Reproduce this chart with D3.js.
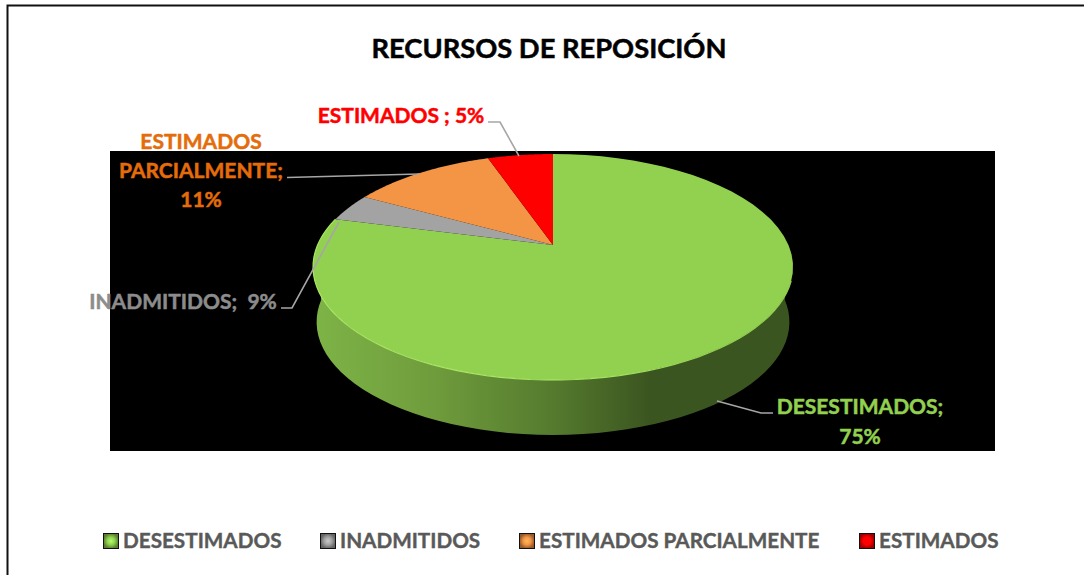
<!DOCTYPE html>
<html><head><meta charset="utf-8">
<script src="https://cdn.jsdelivr.net/npm/d3@7"></script>
<style>html,body{margin:0;padding:0;background:#fff}svg{display:block}text{font-family:Lato,"Open Sans",sans-serif;font-weight:700;paint-order:stroke}</style>
</head><body><svg id="c" width="1084" height="575"></svg>
<script>
const categories = ["DESESTIMADOS","INADMITIDOS","ESTIMADOS PARCIALMENTE","ESTIMADOS"];
const sliceValues = [79,4,11.7,5.3];
const labelPercents = [75,9,11,5];
const sliceColors = ["#92d050","#a3a3a3","#f39545","#ff0000"];
const labelColors = ["#92d050","#8c8c8c","#e46c0a","#ff0000"];
const legendX = [103,320,519,859];

const svg = d3.select("#c");
const defs = svg.append("defs");

svg.append("path").attr("d","M7.5,575V5.5H1084").attr("fill","none").attr("stroke","#111").attr("stroke-width",2);
svg.append("rect").attr("x",110).attr("y",151).attr("width",885).attr("height",300).attr("fill","#000");

svg.append("text").attr("x",549).attr("y",58).attr("text-anchor","middle")
  .attr("font-size",27.3).attr("fill","#000").attr("stroke","#000").attr("stroke-width",0.5).text("RECURSOS DE REPOSICIÓN");

// perspective disc projection
const cx=553, cy=245, ax=235.4, by=108.7, k=-0.1947, depth=55, wallScale=0.985;
const project=(a,bottom)=>{
  const u=Math.sin(a), v=-Math.cos(a), w=1+k*v;
  const s=bottom?wallScale:1;
  return [cx+s*ax*u/w, cy+by*v/w+(bottom?depth:0)];
};
const arcPts=(a0,a1,bottom)=>d3.range(0,61).map(i=>project(a0+(a1-a0)*i/60,bottom));
const line=d3.line();

const pie=d3.pie().sort(null).value(d=>d);
const arcs=pie(sliceValues);

// wall
const wg=defs.append("linearGradient").attr("id","wall").attr("gradientUnits","userSpaceOnUse")
  .attr("x1",313).attr("x2",794).attr("y1",0).attr("y2",0);
[[0,"#7eb447"],[0.25,"#6f9c3c"],[0.5,"#557a2e"],[0.7,"#3b5520"],[1,"#3b5520"]].forEach(s=>wg.append("stop").attr("offset",s[0]).attr("stop-color",s[1]));
const wa0=Math.PI/2, wa1=Math.PI*1.5;
const wallPts=arcPts(wa0,wa1,false).concat(arcPts(wa1,wa0,true));
svg.append("path").attr("d",line(wallPts)+"Z").attr("fill","url(#wall)");

// top slices
svg.append("g").selectAll("path").data(arcs).join("path")
  .attr("d",d=>line([[cx,cy],...arcPts(d.startAngle,d.endAngle,false)])+"Z")
  .attr("fill",(d,i)=>sliceColors[i]);
// rim highlight, fading out towards the right
const rg=defs.append("linearGradient").attr("id","rim").attr("gradientUnits","userSpaceOnUse")
  .attr("x1",313).attr("x2",794).attr("y1",0).attr("y2",0);
[[0,"#a9e663"],[0.55,"#a9e663"],[0.85,"#92d050"],[1,"#92d050"]].forEach(s=>rg.append("stop").attr("offset",s[0]).attr("stop-color",s[1]));
svg.append("path").attr("d",line(arcPts(Math.PI*0.6,arcs[0].endAngle,false)))
  .attr("fill","none").attr("stroke","url(#rim)").attr("stroke-width",1.2);

// leaders
const leaders=[
 [[717,401],[761,413],[773,413]],
 [[281,308],[292,308],[339,222]],
 [[287,177.5],[419,174]],
 [[488,122],[500,122],[519,156]]
];
svg.append("g").selectAll("path").data(leaders).join("path")
  .attr("d",d=>line(d)).attr("fill","none").attr("stroke","#a6a6a6").attr("stroke-width",1.6);

// labels
const labelLines=[
 {i:0,x:860,ys:[414,444],t:[categories[0]+";",labelPercents[0]+"%"]},
 {i:1,x:183,ys:[309],t:[categories[1]+";  "+labelPercents[1]+"%"]},
 {i:2,x:201,ys:[149,178,207],t:["ESTIMADOS","PARCIALMENTE;",labelPercents[2]+"%"]},
 {i:3,x:401,ys:[123],t:[categories[3]+" ; "+labelPercents[3]+"%"]}
];
labelLines.forEach(l=>l.t.forEach((s,j)=>{
  svg.append("text").attr("x",l.x).attr("y",l.ys[j]).attr("text-anchor","middle")
    .attr("font-size",21).style("white-space","pre")
    .attr("fill",labelColors[l.i]).attr("stroke",labelColors[l.i]).attr("stroke-width",0.5).text(s);
}));

// legend
categories.forEach((c,i)=>{
  const g=defs.append("radialGradient").attr("id","lg"+i);
  g.append("stop").attr("offset",0).attr("stop-color",d3.color(sliceColors[i]).brighter(0.6));
  g.append("stop").attr("offset",0.5).attr("stop-color",sliceColors[i]);
  g.append("stop").attr("offset",1).attr("stop-color",d3.color(sliceColors[i]).darker(1.4));
  svg.append("rect").attr("x",legendX[i]+0.5).attr("y",533.5).attr("width",15).attr("height",15)
    .attr("fill","url(#lg"+i+")").attr("stroke","#111").attr("stroke-width",1);
  svg.append("text").attr("x",legendX[i]+20).attr("y",548).attr("font-size",20.7).attr("fill","#595959").attr("stroke","#595959").attr("stroke-width",0.4).text(c);
});
</script></body></html>
